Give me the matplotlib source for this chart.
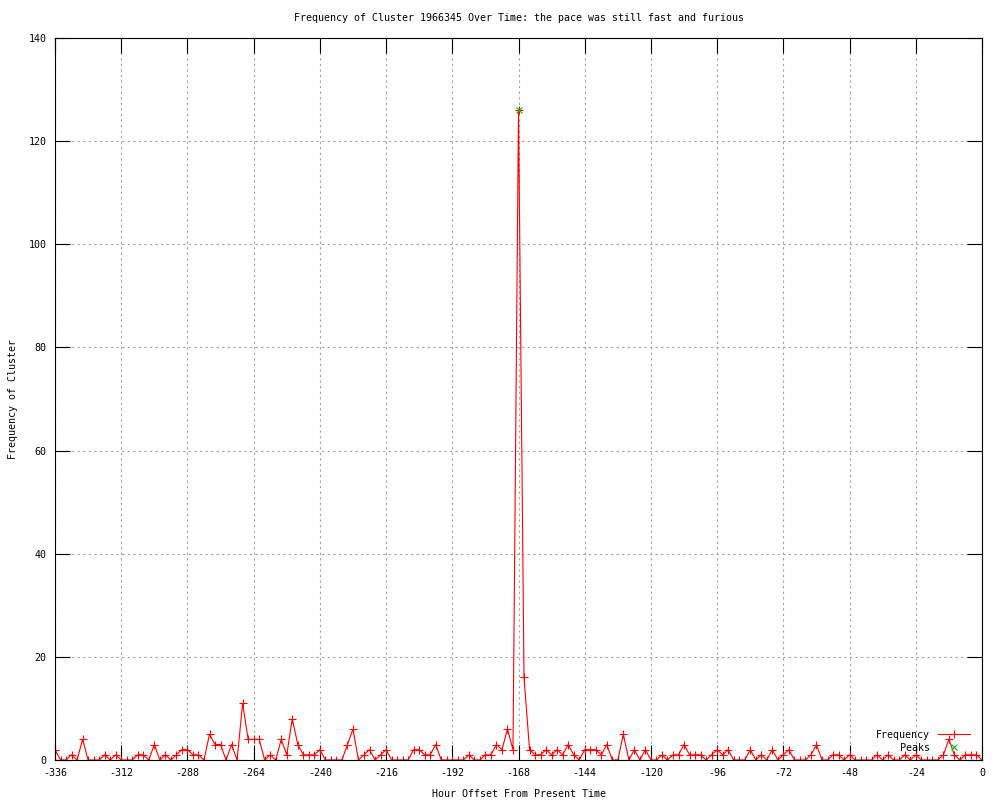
import numpy as np
import matplotlib
matplotlib.use('Agg')
import matplotlib.pyplot as plt

# hour offsets, every 2 hours over the last two weeks
hours = list(range(-336, 1, 2))

# counts, 10 per row
freq = [
    2, 0, 0, 1, 0, 4, 0, 0, 0, 1,      # -336 .. -318
    0, 1, 0, 0, 0, 1, 1, 0, 3, 0,      # -316 .. -298
    1, 0, 1, 2, 2, 1, 1, 0, 5, 3,      # -296 .. -278
    3, 0, 3, 0, 11, 4, 4, 4, 0, 1,     # -276 .. -258
    0, 4, 1, 8, 3, 1, 1, 1, 2, 0,      # -256 .. -238
    0, 0, 0, 3, 6, 0, 1, 2, 0, 1,      # -236 .. -218
    2, 0, 0, 0, 0, 2, 2, 1, 1, 3,      # -216 .. -198
    0, 0, 0, 0, 0, 1, 0, 0, 1, 1,      # -196 .. -178
    3, 2, 6, 2, 126, 16, 2, 1, 1, 2,   # -176 .. -158
    1, 2, 1, 3, 1, 0, 2, 2, 2, 1,      # -156 .. -138
    3, 0, 0, 5, 0, 2, 0, 2, 0, 0,      # -136 .. -118
    1, 0, 1, 1, 3, 1, 1, 1, 0, 1,      # -116 .. -98
    2, 1, 2, 0, 0, 0, 2, 0, 1, 0,      # -96 .. -78
    2, 0, 1, 2, 0, 0, 0, 1, 3, 0,      # -76 .. -58
    0, 1, 1, 0, 1, 0, 0, 0, 0, 1,      # -56 .. -38
    0, 1, 0, 0, 1, 0, 1, 0, 0, 0,      # -36 .. -18
    0, 1, 4, 1, 0, 1, 1, 1, 0,         # -16 .. 0
]
assert len(freq) == len(hours)

peak_hours = [-168]
peak_vals = [126]

plt.rcParams['font.family'] = ['DejaVu Sans Mono']
plt.rcParams['axes.unicode_minus'] = False
fs = 7.2

fig = plt.figure(figsize=(10, 8), dpi=100)
ax = fig.add_axes([0.055, 0.05, 0.927, 0.9025])

ax.plot(hours, freq, color='#ff0000', lw=0.8, marker='+', ms=6, mew=0.8,
        label='Frequency')
ax.plot(peak_hours, peak_vals, color='#00c000', ls='none', marker='x', ms=5,
        mew=0.8, label='Peaks')

ax.set_xlim(-336, 0)
ax.set_ylim(0, 140)
ax.set_xticks(range(-336, 1, 24))
ax.set_yticks(range(0, 141, 20))

ax.grid(True, color='#a0a0a0', ls=(0, (2, 3)), lw=0.8)
ax.set_axisbelow(True)
for s in ax.spines.values():
    s.set_linewidth(0.8)
ax.tick_params(direction='in', length=11, width=0.8, top=True, right=True,
               labelsize=fs, pad=6)

ax.set_title('Frequency of Cluster 1966345 Over Time: the pace was still fast and furious',
             fontsize=fs, pad=12)
ax.set_xlabel('Hour Offset From Present Time', fontsize=fs, labelpad=8)
ax.set_ylabel('Frequency of Cluster', fontsize=fs, labelpad=8)

ax.legend(loc='lower right', bbox_to_anchor=(0.987, 0.01), borderaxespad=0,
          borderpad=0, frameon=False, markerfirst=False, fontsize=fs,
          handlelength=3.2, handletextpad=0.8, labelspacing=0.3)

fig.savefig('out.png', dpi=100)
